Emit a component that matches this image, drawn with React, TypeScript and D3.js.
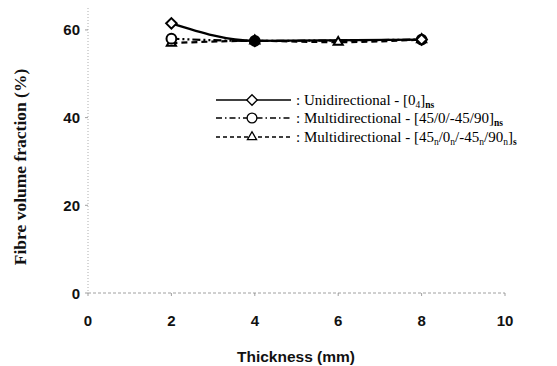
import React from "react";
import * as d3 from "d3";

const thickness = [2, 4, 6, 8];
const uniX = [2, 4, 8];
const uniY = [61.5, 57.5, 57.8];
const multiX = [2, 4, 8];
const multiY = [58, 57.5, 57.8];
const multiNX = [2, 4, 6, 8];
const multiNY = [57, 57.5, 57.2, 57.8];
const xTicks = [0, 2, 4, 6, 8, 10];
const yTicks = [0, 20, 40, 60];

const W = 557;
const H = 366;

const xScale = d3.scaleLinear().domain([0, 10]).range([88, 505]);
const yScale = d3.scaleLinear().domain([0, 65]).range([293, 8]);

type Pt = { x: number; y: number };
const zip = (xs: number[], ys: number[]): Pt[] => xs.map((x, i) => ({ x, y: ys[i] }));

const line = d3
  .line<Pt>()
  .x((d) => xScale(d.x))
  .y((d) => yScale(d.y))
  .curve(d3.curveMonotoneX);

const symDiamond = d3.symbol().type(d3.symbolDiamond2).size(70);
const symCircle = d3.symbol().type(d3.symbolCircle).size(75);
const symTriangle = d3.symbol().type(d3.symbolTriangle2).size(60);

const series = [
  { name: "uni", pts: zip(uniX, uniY), dash: "none", sym: symDiamond },
  { name: "multi", pts: zip(multiX, multiY), dash: "8,3,2,3,2,3", sym: symCircle },
  { name: "multiN", pts: zip(multiNX, multiNY), dash: "6,4", sym: symTriangle },
];

const serif = "'Liberation Serif', 'Times New Roman', serif";
const sans = "'Liberation Sans', Arial, sans-serif";

const App = () => {
  const legendY = [100, 118, 137];
  return (
    <svg width={W} height={H} style={{ position: "absolute", left: 0, top: 0, background: "#fff" }}>
      {/* axes */}
      <line x1={xScale(0)} x2={xScale(0)} y1={yScale(65)} y2={yScale(0)} stroke="#999" strokeWidth={0.8} strokeDasharray="1,2" />
      <line x1={xScale(0)} x2={xScale(10)} y1={yScale(0)} y2={yScale(0)} stroke="#888" strokeWidth={0.8} strokeDasharray="3,2" />
      {yTicks.map((t) => (
        <g key={"y" + t}>
          <line x1={xScale(0) - 3} x2={xScale(0)} y1={yScale(t)} y2={yScale(t)} stroke="#888" strokeWidth={0.8} />
          <text x={xScale(0) - 8} y={yScale(t) + 5.5} textAnchor="end" fontFamily={sans} fontSize={15} fontWeight="bold" fill="#111">
            {t}
          </text>
        </g>
      ))}
      {xTicks.map((t) => (
        <g key={"x" + t}>
          <line x1={xScale(t)} x2={xScale(t)} y1={yScale(0)} y2={yScale(0) + 3} stroke="#888" strokeWidth={0.8} />
          <text x={xScale(t)} y={326} textAnchor="middle" fontFamily={sans} fontSize={15} fontWeight="bold" fill="#111">
            {t}
          </text>
        </g>
      ))}
      <text x={296} y={362} textAnchor="middle" fontFamily={sans} fontSize={15.5} fontWeight="bold" fill="#111">
        Thickness (mm)
      </text>
      <text
        transform={`translate(26,167) rotate(-90)`}
        textAnchor="middle"
        fontFamily={serif}
        fontSize={17.5}
        fontWeight="bold"
        fill="#111"
      >
        Fibre volume fraction (%)
      </text>

      {/* lines */}
      {series.map((s) => (
        <path key={s.name} d={line(s.pts) || ""} fill="none" stroke="#000" strokeWidth={2.2} strokeDasharray={s.dash} />
      ))}
      {series
        .slice()
        .reverse()
        .map((s) =>
          s.pts.map((p, i) => (
            <path
              key={s.name + i}
              d={s.sym() || ""}
              transform={`translate(${xScale(p.x)},${yScale(p.y)})`}
              fill={s.name === "uni" && p.x === thickness[1] ? "#000" : "#fff"}
              stroke="#000"
              strokeWidth={2}
            />
          ))
        )}

      {/* legend */}
      {series.map((s, i) => (
        <g key={"lg" + s.name}>
          <line x1={216} x2={291} y1={legendY[i]} y2={legendY[i]} stroke="#000" strokeWidth={1.3} strokeDasharray={s.dash === "none" ? "none" : s.dash === "6,4" ? "4,3" : "6,3,1.5,3"} />
          <path d={s.sym() || ""} transform={`translate(252,${legendY[i]})`} fill="#fff" stroke="#000" strokeWidth={1.3} />
        </g>
      ))}
      <text x={296} y={legendY[0] + 5} fontFamily={serif} fontSize={15} fill="#000">
        : Unidirectional - [0<tspan fontSize={9.5} dy={3}>4</tspan>
        <tspan dy={-3}>]</tspan>
        <tspan fontSize={9.5} dy={3} fontWeight="bold">ns</tspan>
      </text>
      <text x={296} y={legendY[1] + 5} fontFamily={serif} fontSize={15} fill="#000">
        : Multidirectional - [45/0/-45/90]<tspan fontSize={9.5} dy={3} fontWeight="bold">ns</tspan>
      </text>
      <text x={296} y={legendY[2] + 5} fontFamily={serif} fontSize={15} fill="#000">
        : Multidirectional - [45<tspan fontSize={9.5} dy={3}>n</tspan>
        <tspan dy={-3}>/0</tspan>
        <tspan fontSize={9.5} dy={3}>n</tspan>
        <tspan dy={-3}>/-45</tspan>
        <tspan fontSize={9.5} dy={3}>n</tspan>
        <tspan dy={-3}>/90</tspan>
        <tspan fontSize={9.5} dy={3}>n</tspan>
        <tspan dy={-3}>]</tspan>
        <tspan fontSize={9.5} dy={3} fontWeight="bold">s</tspan>
      </text>
    </svg>
  );
};

export default App;
